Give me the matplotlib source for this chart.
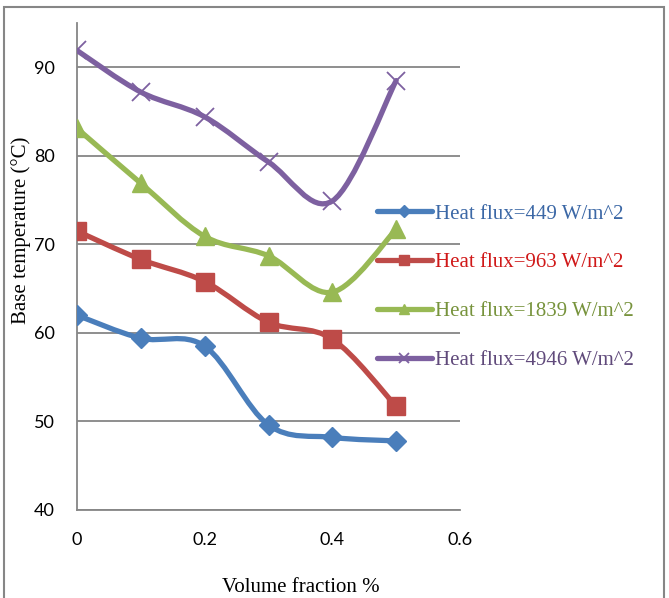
import matplotlib
matplotlib.use('Agg')
import matplotlib.pyplot as plt
import numpy as np
from matplotlib.path import Path
from matplotlib.patches import PathPatch, Rectangle
from matplotlib.lines import Line2D

# data
volume_fraction = [0, 0.1, 0.2, 0.3, 0.4, 0.5]
temp_449 = [62.0, 59.4, 58.5, 49.6, 48.2, 47.8]
temp_963 = [71.5, 68.3, 65.8, 61.2, 59.3, 51.7]
temp_1839 = [83.1, 76.9, 70.9, 68.7, 64.6, 71.7]
temp_4946 = [91.9, 87.2, 84.4, 79.3, 74.9, 88.5]

labels = ['Heat flux=449 W/m^2', 'Heat flux=963 W/m^2',
          'Heat flux=1839 W/m^2', 'Heat flux=4946 W/m^2']
series = [temp_449, temp_963, temp_1839, temp_4946]
colors = ['#4a7ebb', '#be4b48', '#98b954', '#7d60a0']
text_colors = ['#3c68a6', '#d01818', '#77933c', '#604a7b']
markers = ['D', 's', '^', 'x']
msizes = [10, 13, 13, 13]


def smooth_path(x, y):
    # Excel-style smoothed line: cubic Bezier segments through the points
    x = np.asarray(x, float)
    y = np.asarray(y, float)
    n = len(x)
    verts = [(x[0], y[0])]
    codes = [Path.MOVETO]
    for i in range(n - 1):
        p0 = np.array([x[max(i - 1, 0)], y[max(i - 1, 0)]])
        p1 = np.array([x[i], y[i]])
        p2 = np.array([x[i + 1], y[i + 1]])
        p3 = np.array([x[min(i + 2, n - 1)], y[min(i + 2, n - 1)]])
        c1 = p1 + (p2 - p0) / 6.0
        c2 = p2 - (p3 - p1) / 6.0
        verts += [tuple(c1), tuple(c2), tuple(p2)]
        codes += [Path.CURVE4] * 3
    return Path(verts, codes)


fig = plt.figure(figsize=(6.69, 5.98), dpi=100)
ax = fig.add_axes([0.1151, 0.1472, 0.5725, 0.8143])

for vals, c, m, ms in zip(series, colors, markers, msizes):
    patch = PathPatch(smooth_path(volume_fraction, vals), fill=False,
                      edgecolor=c, lw=3.8, capstyle='round', joinstyle='round',
                      zorder=3)
    ax.add_patch(patch)
    if m == 'x':
        ax.plot(volume_fraction, vals, ls='none', marker=m, ms=ms, mew=1.3,
                color=c, zorder=4)
    else:
        ax.plot(volume_fraction, vals, ls='none', marker=m, ms=ms,
                color=c, mec=c, zorder=4)

ax.set_xlim(0, 0.6)
ax.set_ylim(40, 95)
ax.set_xticks([0, 0.2, 0.4, 0.6])
ax.set_xticklabels(['0', '0.2', '0.4', '0.6'])
ax.set_yticks([40, 50, 60, 70, 80, 90])
ax.grid(axis='y', color='#868686', lw=1.3)
ax.set_axisbelow(True)
for s in ['top', 'right']:
    ax.spines[s].set_visible(False)
for s in ['left', 'bottom']:
    ax.spines[s].set_color('#868686')
    ax.spines[s].set_linewidth(1.3)
ax.tick_params(length=0, labelsize=13)
ax.tick_params(axis='y', pad=16)
ax.tick_params(axis='x', pad=16)
for t in ax.get_xticklabels() + ax.get_yticklabels():
    t.set_family('Lato')

ax.set_xlabel('Volume fraction %', family='Liberation Serif', fontsize=15,
              va='center')
ax.xaxis.set_label_coords(0.585, -0.16)
ax.set_ylabel('Base temperature (°C)', family='Liberation Serif', fontsize=15,
              va='center')
ax.yaxis.set_label_coords(-0.146, 0.575)

handles = [Line2D([], [], color=c, lw=3.8, marker=m, ms=ms * 0.6,
                  mew=1.3 if m == 'x' else 1.0, solid_capstyle='round')
           for c, m, ms in zip(colors, markers, msizes)]
leg = fig.legend(handles, labels, loc='upper left',
                 bbox_to_anchor=(0.536, 0.69), frameon=False,
                 prop={'family': 'Liberation Serif', 'size': 15},
                 handlelength=2.6, handletextpad=0.15, labelspacing=1.4)
for t, c in zip(leg.get_texts(), text_colors):
    t.set_color(c)

# chart border
fig.patches.append(Rectangle((4 / 669, -0.05), 660 / 669, 1.05 - 7 / 598,
                             transform=fig.transFigure, fill=False,
                             edgecolor='#868686', lw=1.5, clip_on=False))

fig.savefig('out.png', dpi=100)
